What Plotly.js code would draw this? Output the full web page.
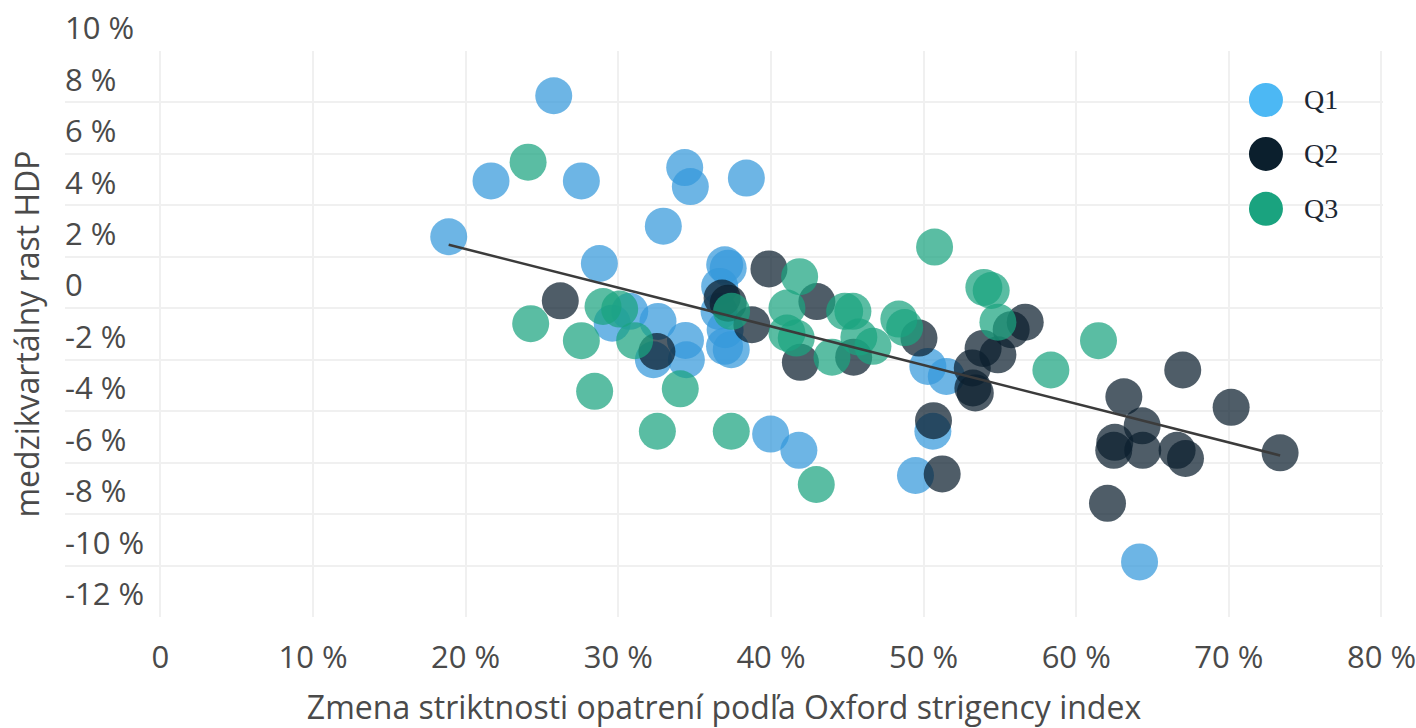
<!DOCTYPE html>
<html>
<head>
<meta charset="utf-8">
<script src="https://cdn.plot.ly/plotly-3.0.1.min.js"></script>
<style>html,body{margin:0;padding:0;background:#fff;}#chart{width:1416px;height:728px;}</style>
</head>
<body>
<div id="chart"></div>
<script>
// Q1
const q1X = [25.77, 21.66, 27.58, 34.35, 34.72, 38.39, 18.89, 32.95, 28.76, 36.97, 37.2, 36.64, 36.6, 37.0, 36.96, 37.4, 29.6, 30.75, 32.6, 32.3, 34.4, 34.46, 50.28, 51.49, 50.61, 49.47, 39.98, 41.83, 64.15];
const q1Y = [8.26, 4.95, 4.95, 5.47, 4.73, 5.06, 2.78, 3.19, 1.74, 1.69, 1.56, 0.85, -0.12, -0.83, -1.48, -1.61, -0.58, -0.12, -0.51, -2.0, -1.25, -2.0, -2.26, -2.65, -4.78, -6.5, -4.89, -5.52, -9.86];
// Q2
const q2X = [26.2, 32.53, 36.8, 37.2, 38.75, 39.87, 43.01, 41.93, 45.42, 49.7, 50.65, 51.22, 53.9, 54.87, 55.74, 56.66, 53.19, 53.23, 53.39, 66.98, 70.15, 63.12, 64.32, 62.53, 62.46, 64.36, 66.61, 67.16, 73.36, 62.05];
const q2Y = [0.29, -1.68, 0.4, 0.2, -0.64, 1.53, 0.26, -2.1, -1.9, -1.16, -4.37, -6.44, -1.56, -1.81, -0.83, -0.54, -2.32, -3.1, -3.29, -2.4, -3.85, -3.44, -4.57, -5.21, -5.52, -5.52, -5.52, -5.84, -5.62, -7.58];
// Q3
const q3X = [24.09, 24.26, 27.58, 28.45, 29.0, 30.09, 31.07, 34.06, 32.56, 37.4, 37.42, 41.88, 41.05, 41.05, 41.66, 44.0, 44.83, 45.37, 45.76, 46.68, 48.38, 48.76, 50.72, 53.95, 54.43, 54.87, 58.34, 61.46, 42.97];
const q3Y = [5.68, -0.6, -1.26, -3.23, 0.07, -0.03, -1.26, -3.13, -4.78, -4.78, -0.12, 1.23, 0.01, -0.96, -1.16, -1.9, -0.12, -0.12, -1.12, -1.48, -0.42, -0.75, 2.38, 0.81, 0.69, -0.54, -2.4, -1.26, -6.85];
// trend line
const trendX = [18.89, 73.36];
const trendY = [2.47, -5.72];

const seriesNames = ['Q1', 'Q2', 'Q3'];
const seriesColors = ['#3498db', '#0b1f2e', '#1aa37f'];
const legendColors = ['#4cb8f4', '#0b1f2d', '#1aa37f'];

const xTickVals = [0, 10, 20, 30, 40, 50, 60, 70, 80];
const xTickText = ['0', '10 %', '20 %', '30 %', '40 %', '50 %', '60 %', '70 %', '80 %'];
const yTickVals = [-12, -10, -8, -6, -4, -2, 0, 2, 4, 6, 8, 10];
const yTickText = ['-12 %', '-10 %', '-8 %', '-6 %', '-4 %', '-2 %', '0', '2 %', '4 %', '6 %', '8 %', '10 %'];

const xs = [q1X, q2X, q3X];
const ys = [q1Y, q2Y, q3Y];

const traces = seriesNames.map((n, i) => ({
  type: 'scatter', mode: 'markers', name: n,
  x: xs[i], y: ys[i],
  marker: {size: 37, color: seriesColors[i], opacity: 0.72, line: {width: 0}},
  showlegend: false, hoverinfo: 'x+y+name'
}));
traces.push({
  type: 'scatter', mode: 'lines', name: 'trend',
  x: trendX, y: trendY,
  line: {color: '#3b3b3b', width: 2.5},
  showlegend: false
});

// custom legend (large symbols)
const legY = [0.9135, 0.8182, 0.7211];
const shapes = seriesNames.map((n, i) => ({
  type: 'circle', xref: 'paper', yref: 'paper',
  xsizemode: 'pixel', ysizemode: 'pixel',
  xanchor: 0.9112, yanchor: legY[i],
  x0: -17, x1: 17, y0: -17, y1: 17,
  fillcolor: legendColors[i], line: {width: 0}
}));
const annotations = seriesNames.map((n, i) => ({
  xref: 'paper', yref: 'paper', x: 0.9386, y: legY[i],
  xanchor: 'left', yanchor: 'middle', showarrow: false,
  text: n, font: {family: 'Liberation Serif, serif', size: 28, color: '#1c2733'}
}));

const layout = {
  width: 1416, height: 728,
  margin: {l: 65, r: 33, t: 51, b: 110.5},
  paper_bgcolor: '#ffffff', plot_bgcolor: '#ffffff',
  showlegend: false,
  font: {family: 'Open Sans, sans-serif', color: '#4a4a4a'},
  xaxis: {
    range: [-6.25, 80.1],
    tickvals: xTickVals, ticktext: xTickText,
    tickfont: {size: 31, color: '#4a4a4a'},
    ticklabeloverflow: 'allow',
    showgrid: true, gridcolor: '#f0f0f0', gridwidth: 2,
    zeroline: false, showline: false, ticks: '',
    ticklabelstandoff: 19,
    title: {text: 'Zmena striktnosti opatrení podľa Oxford strigency index', font: {size: 32, color: '#4a4a4a'}, standoff: 35}
  },
  yaxis: {
    range: [-12, 10],
    tickvals: yTickVals, ticktext: yTickText,
    tickfont: {size: 31, color: '#4a4a4a'},
    ticklabelposition: 'inside top',
    ticklabeloverflow: 'allow',
    ticklabelshift: -1,
    ticklabelstandoff: -3,
    showgrid: true, gridcolor: '#f0f0f0', gridwidth: 2,
    zeroline: false, showline: false, ticks: '',
    title: {text: 'medzikvartálny rast HDP', font: {size: 32, color: '#4a4a4a'}}
  },
  shapes: shapes,
  annotations: annotations
};

Plotly.newPlot('chart', traces, layout, {displayModeBar: false, staticPlot: true});
</script>
</body>
</html>
